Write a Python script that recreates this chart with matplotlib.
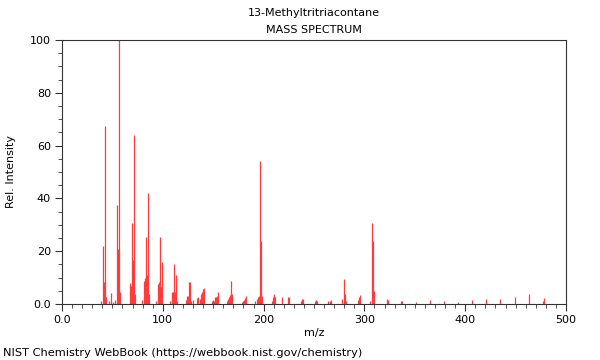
import matplotlib
matplotlib.use("Agg")
import matplotlib.pyplot as plt
from matplotlib.ticker import MultipleLocator, FuncFormatter

title = "13-Methyltritriacontane"
subtitle = "MASS SPECTRUM"
xlabel = "m/z"
ylabel = "Rel. Intensity"
footer = "NIST Chemistry WebBook (https://webbook.nist.gov/chemistry)"

mz = [39, 41, 42, 43, 44, 47, 49, 51, 53, 55, 56, 57, 58,
      67, 68, 69, 70, 71, 72,
      79, 81, 82, 83, 84, 85, 86,
      93, 95, 96, 97, 98, 99,
      107, 109, 110, 111, 112, 113, 114,
      123, 124, 125, 126, 127, 128,
      130, 134, 135, 137, 138, 139, 140, 141,
      149, 150, 151, 152, 153, 154, 155,
      164, 165, 166, 167, 168, 169,
      179, 180, 181, 182, 183,
      191, 193, 194, 195, 196, 197, 198,
      208, 209, 210, 211,
      218, 224, 225,
      237, 238, 239,
      251, 252, 253,
      264, 266, 267,
      278, 280, 281, 282,
      294, 295, 296,
      306, 308, 309, 310,
      322, 323,
      336, 337,
      351, 365, 379, 393, 407, 421, 435, 449, 463, 477, 478]

intensity = [1.0, 22, 8.5, 67.5, 2.8, 1.0, 4.0, 0.8, 1.5, 37.5, 21, 100, 4.4,
             7.8, 7.0, 30.8, 16.7, 64.2, 3.8,
             1.7, 8.7, 10, 25.3, 11, 42, 3.7,
             1.3, 7.7, 8.2, 25.3, 6.3, 16,
             1.3, 4.6, 4.6, 15, 4.4, 11, 1.0,
             1.5, 3.0, 3.0, 8.5, 8.5, 1.0,
             1.5, 2.2, 2.5, 2.0, 3.8, 4.6, 5.8, 6.2,
             1.0, 1.5, 1.2, 2.5, 2.5, 3.0, 4.5,
             1.0, 2.0, 2.5, 3.5, 8.8, 3.8,
             0.8, 1.2, 1.5, 2.2, 3.0,
             1.0, 2.0, 2.8, 3.0, 54, 24, 3.0,
             1.2, 2.5, 3.6, 2.7,
             2.6, 2.5, 2.6,
             1.2, 1.9, 1.9,
             1.0, 1.4, 1.3,
             1.3, 1.0, 1.4,
             1.9, 9.3, 3.8, 1.0,
             1.5, 2.6, 3.5,
             1.2, 30.5, 23.8, 5.0,
             1.9, 1.4,
             1.3, 1.0,
             0.8, 1.5, 1.0, 0.8, 1.5, 1.8, 1.8, 2.8, 3.8, 1.2, 2.2]

fig = plt.figure(figsize=(6, 3.6), dpi=100)
ax = fig.add_axes([62/600, 56/360, 504/600, 264/360])

ax.vlines(mz, 0, intensity, colors="#ff3b3b", linewidth=0.9)

ax.set_xlim(0, 500)
ax.set_ylim(0, 100)
ax.xaxis.set_major_locator(MultipleLocator(100))
ax.xaxis.set_minor_locator(MultipleLocator(10))
ax.yaxis.set_major_locator(MultipleLocator(20))
ax.yaxis.set_minor_locator(MultipleLocator(5))
fmt = FuncFormatter(lambda v, p: "0.0" if v == 0 else f"{int(v)}")
ax.xaxis.set_major_formatter(fmt)
ax.yaxis.set_major_formatter(fmt)
ax.tick_params(axis="both", which="major", labelsize=8, length=5, width=0.8,
               color="#333333", pad=3)
ax.tick_params(axis="both", which="minor", length=3, width=0.6, color="#333333")
for s in ax.spines.values():
    s.set_color("#333333")
    s.set_linewidth(0.8)

ax.set_xlabel(xlabel, fontsize=8, labelpad=2)
ax.set_ylabel(ylabel, fontsize=8, labelpad=10)

fig.text(314/600, 1 - 13/360, title, ha="center", va="center", fontsize=8)
fig.text(314/600, 1 - 30/360, subtitle, ha="center", va="center", fontsize=8)
fig.text(3/600, 1 - 353/360, footer, ha="left", va="center", fontsize=8.2)

fig.savefig("out.png", dpi=100)
